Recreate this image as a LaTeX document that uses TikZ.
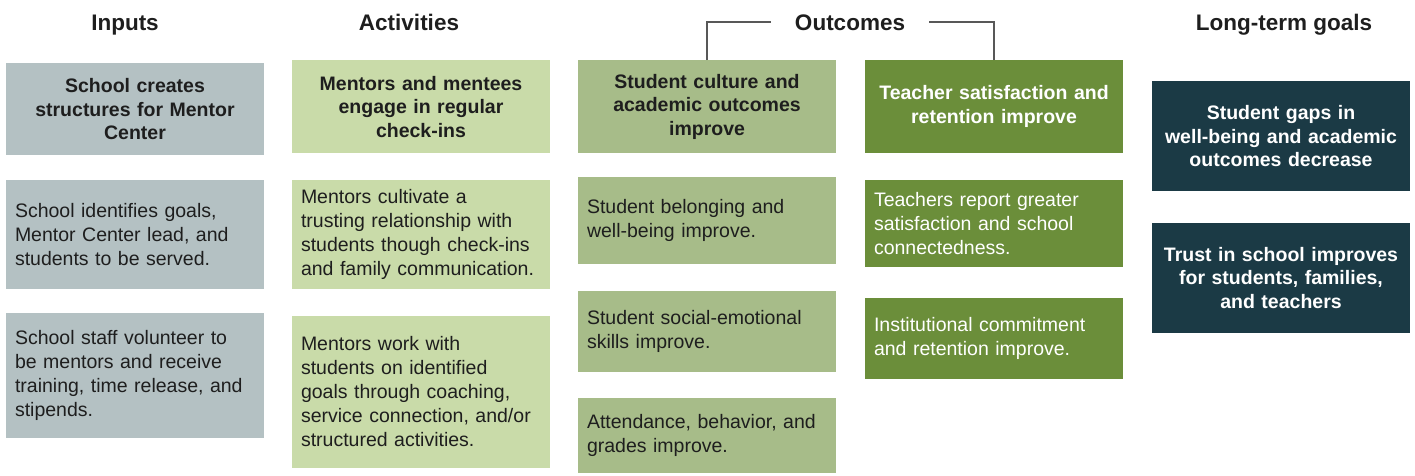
\documentclass[tikz,border=0pt]{standalone}
\usepackage{fontspec}
\setmainfont{Liberation Sans}
\usetikzlibrary{positioning}
\definecolor{inpgray}{HTML}{B4C1C3}
\definecolor{actgreen}{HTML}{C9DBA9}
\definecolor{outgreen}{HTML}{A7BC89}
\definecolor{tchgreen}{HTML}{6B8E3A}
\definecolor{goalnavy}{HTML}{1B3A45}
\definecolor{txtdark}{HTML}{1E1E1E}
\definecolor{linegray}{HTML}{585858}

\begin{document}
\begin{tikzpicture}[
    x=1pt, y=-1pt,
    every node/.style={font=\fontsize{19.5}{24}\selectfont, text=txtdark},
    boxbase/.style={
        rectangle, minimum width=258pt, text width=240pt,
        inner xsep=9pt, inner ysep=2pt
    },
    titlebox/.style={boxbase, align=center, font=\bfseries\fontsize{19.5}{23.5}\selectfont},
    itembox/.style={boxbase, align=left},
    headnode/.style={anchor=base, font=\bfseries\fontsize{22.5}{26}\selectfont},
    inbox/.style={fill=inpgray},
    actbox/.style={fill=actgreen},
    outbox/.style={fill=outgreen},
    tchbox/.style={fill=tchgreen, text=white},
    goalbox/.style={fill=goalnavy, text=white},
    bracket/.style={draw=linegray, line width=2pt},
]
\useasboundingbox (0,0) rectangle (1415,475);

% column headers
\node[headnode] (inhd) at (125,30) {Inputs};
\node[headnode] (acthd) at (409,30) {Activities};
\node[headnode] (outhd) at (850,30) {Outcomes};
\node[headnode] (goalhd) at (1284,30) {Long-term goals};

% Inputs
\node[titlebox, inbox, anchor=north, minimum height=92pt] (in1) at (135,63) {School creates\\structures for Mentor\\Center};
\node[itembox, inbox, below=24pt of in1, minimum height=109pt] (in2) {School identifies goals,\\Mentor Center lead, and\\students to be served.};
\node[itembox, inbox, below=24pt of in2, minimum height=125pt] (in3) {School staff volunteer to\\be mentors and receive\\training, time release, and\\stipends.};

% Activities
\node[titlebox, actbox, anchor=north, minimum height=93pt] (act1) at (421,60) {Mentors and mentees\\engage in regular\\check-ins};
\node[itembox, actbox, below=26pt of act1, minimum height=109pt] (act2) {Mentors cultivate a\\trusting relationship with\\students though check-ins\\and family communication.};
\node[itembox, actbox, below=27pt of act2, minimum height=152pt] (act3) {Mentors work with\\students on identified\\goals through coaching,\\service connection, and/or\\structured activities.};

% Outcomes - students
\node[titlebox, outbox, anchor=north, minimum height=93pt] (stu1) at (707,60) {Student culture and\\academic outcomes\\improve};
\node[itembox, outbox, below=23pt of stu1, minimum height=87pt] (stu2) {Student belonging and\\well-being improve.};
\node[itembox, outbox, below=27pt of stu2, minimum height=81pt] (stu3) {Student social-emotional\\skills improve.};
\node[itembox, outbox, below=26pt of stu3, minimum height=75pt] (stu4) {Attendance, behavior, and\\grades improve.};

% Outcomes - teachers
\node[titlebox, tchbox, anchor=north, minimum height=93pt] (tch1) at (994,60) {Teacher satisfaction and\\retention improve};
\node[itembox, tchbox, below=26pt of tch1, minimum height=87pt] (tch2) {Teachers report greater\\satisfaction and school\\connectedness.};
\node[itembox, tchbox, below=31pt of tch2, minimum height=81pt] (tch3) {Institutional commitment\\and retention improve.};

% Long-term goals
\node[titlebox, goalbox, anchor=north, minimum height=110pt] (goal1) at (1281,81) {Student gaps in\\well-being and academic\\outcomes decrease};
\node[titlebox, goalbox, below=31pt of goal1, minimum height=110pt] (goal2) {Trust in school improves\\for students, families,\\and teachers};

% bracket joining the two outcome columns
\coordinate (outl) at ([xshift=-20pt]outhd.west);
\coordinate (outr) at ([xshift=20pt]outhd.east);
\draw[bracket] (stu1.north) |- (outl);
\draw[bracket] (tch1.north) |- (outr);
\end{tikzpicture}
\end{document}
